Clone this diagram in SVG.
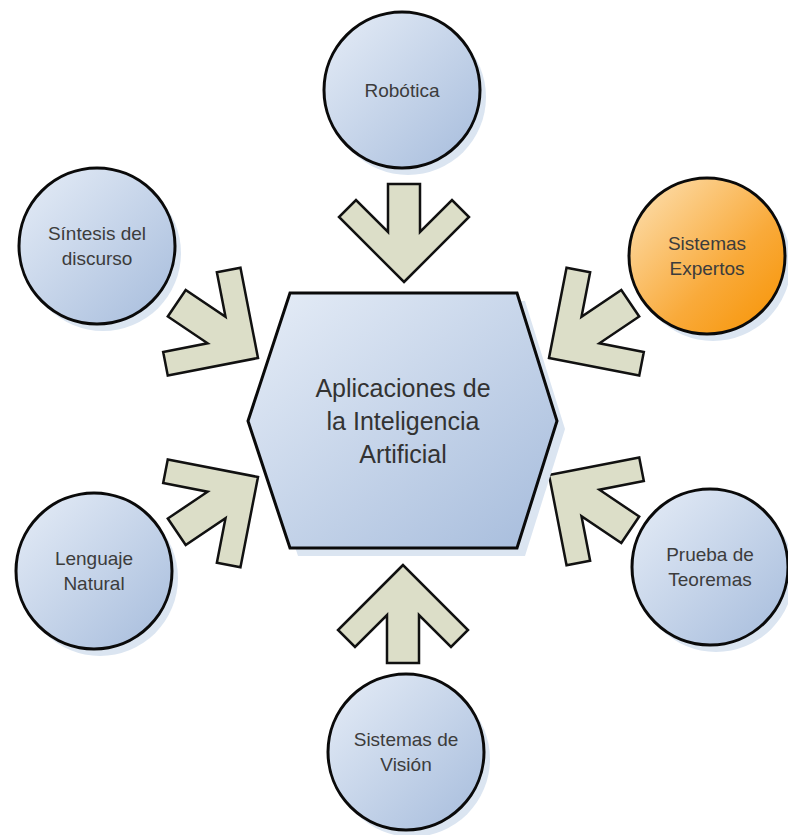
<svg xmlns="http://www.w3.org/2000/svg" width="788" height="835" viewBox="0 0 788 835">
<defs>
<linearGradient id="gBlue" x1="0" y1="0" x2="1" y2="1">
<stop offset="0" stop-color="#e6edf7"/>
<stop offset="1" stop-color="#a6bcdc"/>
</linearGradient>
<linearGradient id="gOrange" x1="0" y1="0" x2="1" y2="1">
<stop offset="0" stop-color="#fde3b8"/>
<stop offset="0.6" stop-color="#f9aa3a"/>
<stop offset="1" stop-color="#f79200"/>
</linearGradient>
<polygon id="arrow" points="0,0 65,-65 48,-82 16,-50 16,-98 -16,-98 -16,-50 -48,-82 -65,-65"/>
</defs>
<style>
.halo{fill:#dbe5f1;stroke:none}
.node{stroke:#0a0a0a;stroke-width:3}
.blue{fill:url(#gBlue)}
.orange{fill:url(#gOrange)}
.arr{fill:#dcdec8;stroke:#111;stroke-width:2.5;stroke-linejoin:miter}
.t{font-family:"Liberation Sans",Arial,sans-serif;font-size:19px;fill:#3c3c3c;text-anchor:middle}
.th{font-family:"Liberation Sans",Arial,sans-serif;font-size:25px;fill:#333;text-anchor:middle}
</style>
<rect width="788" height="835" fill="#fff"/>
<g id="connectors">
<use href="#arrow" class="arr" transform="translate(404,282)"/>
<use href="#arrow" class="arr" transform="translate(403,565) rotate(180)"/>
<use href="#arrow" class="arr" transform="translate(258,358) rotate(-56)"/>
<use href="#arrow" class="arr" transform="translate(549,358) rotate(56)"/>
<use href="#arrow" class="arr" transform="translate(258,477) rotate(-124)"/>
<use href="#arrow" class="arr" transform="translate(549,475) rotate(124)"/>
</g>
<g id="center">
<polygon class="halo" points="298,301 525,301 565,429 525,556 298,556 256,429"/>
<polygon class="node blue" points="290,293 517,293 557,421 517,548 290,548 248,421"/>
<text class="th" x="403" y="397">Aplicaciones de</text>
<text class="th" x="403" y="430">la Inteligencia</text>
<text class="th" x="403" y="463">Artificial</text>
</g>
<g id="robotica">
<circle class="halo" cx="408" cy="97" r="78"/>
<circle class="node blue" cx="402" cy="90" r="78"/>
<text class="t" x="402" y="97">Robótica</text>
</g>
<g id="sintesis">
<circle class="halo" cx="103" cy="253" r="78"/>
<circle class="node blue" cx="97" cy="246" r="78"/>
<text class="t" x="97" y="240">Síntesis del</text>
<text class="t" x="97" y="265">discurso</text>
</g>
<g id="expertos">
<circle class="halo" cx="713" cy="263" r="78"/>
<circle class="node orange" cx="707" cy="256" r="78"/>
<text class="t" x="707" y="250">Sistemas</text>
<text class="t" x="707" y="275">Expertos</text>
</g>
<g id="lenguaje">
<circle class="halo" cx="100" cy="578" r="78"/>
<circle class="node blue" cx="94" cy="571" r="78"/>
<text class="t" x="94" y="565">Lenguaje</text>
<text class="t" x="94" y="590">Natural</text>
</g>
<g id="prueba">
<circle class="halo" cx="716" cy="574" r="78"/>
<circle class="node blue" cx="710" cy="567" r="78"/>
<text class="t" x="710" y="561">Prueba de</text>
<text class="t" x="710" y="586">Teoremas</text>
</g>
<g id="vision">
<circle class="halo" cx="412" cy="759" r="78"/>
<circle class="node blue" cx="406" cy="752" r="78"/>
<text class="t" x="406" y="746">Sistemas de</text>
<text class="t" x="406" y="771">Visión</text>
</g>
</svg>
